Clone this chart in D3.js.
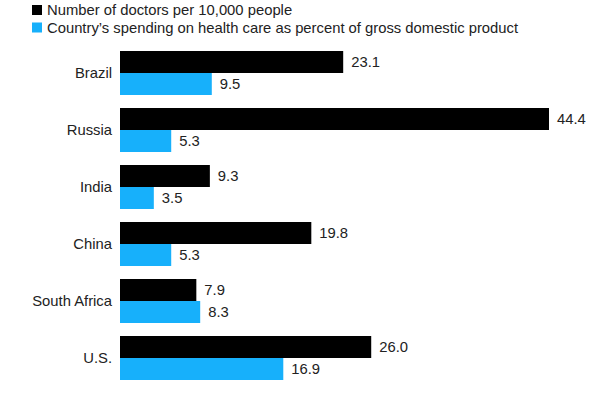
<!DOCTYPE html>
<html><head><meta charset="utf-8">
<script src="https://cdn.jsdelivr.net/npm/d3@7"></script>
<style>body{margin:0;background:#fff}svg{display:block;font-family:"Liberation Sans",Arial,sans-serif}</style>
</head><body><svg id="c" width="603" height="417"></svg>
<script>
const categories = ["Brazil","Russia","India","China","South Africa","U.S."];
const doctors = [23.1,44.4,9.3,19.8,7.9,26.0];
const spending = [9.5,5.3,3.5,5.3,8.3,16.9];
const seriesNames = ["Number of doctors per 10,000 people","Country\u2019s spending on health care as percent of gross domestic product"];
const colors = ["#000000","#17b0fb"];

const svg = d3.select("#c");
const FS = 14.8;
const x = d3.scaleLinear().domain([0,44.4]).range([120,549]);
const y = d3.scaleBand().domain(categories).range([51,393]);
const yb = d3.scaleBand().domain([0,1]).range([0,44]);

// legend
const lg = svg.append("g");
seriesNames.forEach((n,i)=>{
  lg.append("rect").attr("x",32).attr("y",5+i*17.5).attr("width",10).attr("height",10).attr("fill",colors[i]);
  lg.append("text").attr("x",47).attr("y",15+i*17.5).attr("font-size",FS).attr("fill","#222").text(n);
});

const g = svg.append("g");
categories.forEach((c,i)=>{
  const top0 = y(c);
  [doctors[i],spending[i]].forEach((v,k)=>{
    const top = top0+yb(k);
    g.append("rect").attr("x",x(0)).attr("y",top).attr("width",x(v)-x(0)).attr("height",yb.bandwidth()).attr("fill",colors[k]);
    g.append("text").attr("x",x(v)+8).attr("y",top+yb.bandwidth()/2).attr("dy","0.35em").attr("font-size",FS).attr("fill","#222").text(v.toFixed(1));
  });
  g.append("text").attr("x",112).attr("y",top0+22).attr("dy","0.35em").attr("text-anchor","end").attr("font-size",FS).attr("fill","#222").text(c);
});
</script></body></html>
